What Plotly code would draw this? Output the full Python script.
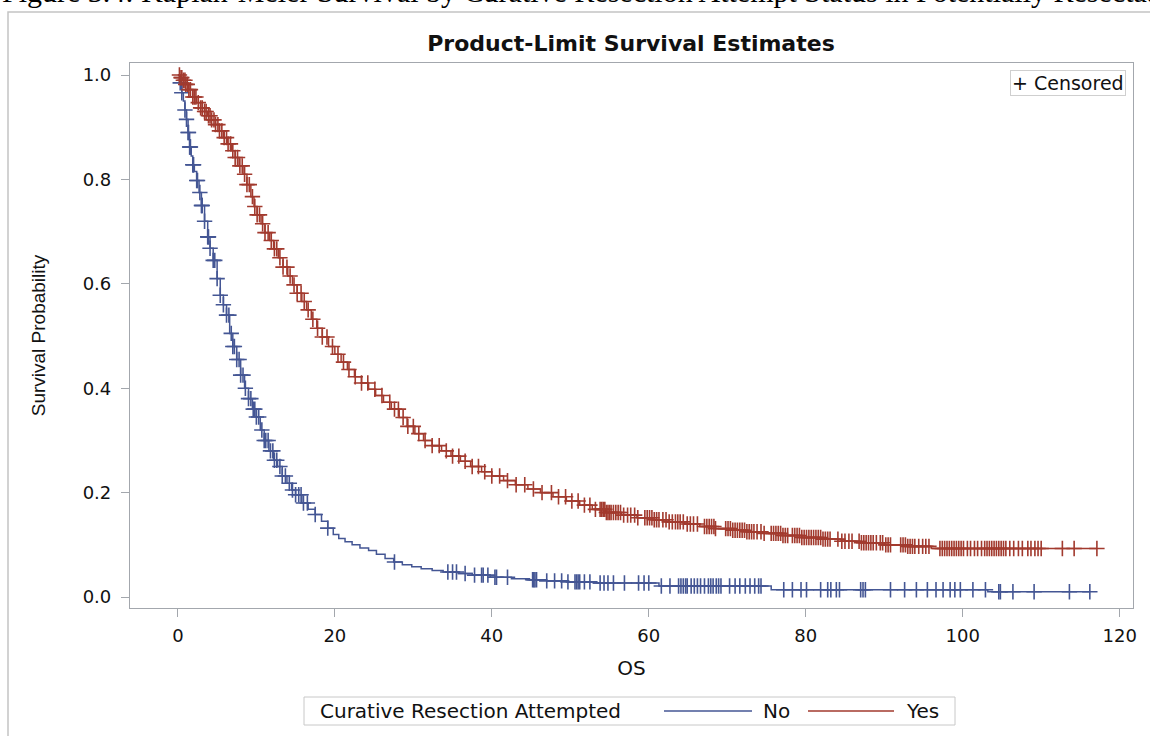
import numpy as np
import plotly.graph_objects as go

# ---- Kaplan-Meier step estimates (time in months, survival after each step) ----
no_time = [0, 0.2, 0.5, 0.7, 0.9, 1.1, 1.3, 1.5, 1.7, 1.9, 2.1, 2.4, 2.7, 3.0, 3.4, 3.8,
           4.1, 4.5, 5.0, 5.4, 5.8, 6.2, 6.6, 7.0, 7.5, 8.0, 8.5, 9.0, 9.5, 10.0, 10.5,
           11.0, 11.6, 12.2, 12.7, 13.3, 13.9, 14.5, 15.0, 15.8, 16.6, 17.5, 18.3, 19.1,
           19.8, 20.5, 21.3, 22.2, 23.2, 24.3, 25.3, 26.4, 27.5, 28.6, 29.8, 31.0, 32.4,
           33.8, 35.8, 37.5, 39.8, 42.5, 44.8, 47.0, 49.5, 53.0, 61.3, 75.6, 103.2]
no_surv = [1.0, 0.985, 0.966, 0.95, 0.933, 0.915, 0.89, 0.862, 0.845, 0.828, 0.815, 0.798,
           0.775, 0.750, 0.72, 0.69, 0.668, 0.645, 0.61, 0.578, 0.56, 0.54, 0.505, 0.48,
           0.455, 0.425, 0.40, 0.38, 0.36, 0.345, 0.32, 0.30, 0.28, 0.262, 0.25, 0.232,
           0.218, 0.205, 0.196, 0.18, 0.168, 0.158, 0.145, 0.132, 0.12, 0.112, 0.106,
           0.100, 0.094, 0.089, 0.082, 0.074, 0.067, 0.062, 0.058, 0.054, 0.051, 0.048,
           0.045, 0.042, 0.038, 0.035, 0.033, 0.031, 0.029, 0.027, 0.021, 0.014, 0.010]

yes_time = [0, 0.3, 0.6, 1.0, 1.4, 1.9, 2.4, 2.9, 3.4, 3.8, 4.3, 4.8, 5.3, 5.8, 6.3, 6.8,
            7.3, 7.8, 8.3, 8.8, 9.3, 9.7, 10.1, 10.6, 11.1, 11.7, 12.2, 12.8, 13.4, 14.0,
            14.6, 15.2, 15.8, 16.4, 17.0, 17.7, 18.4, 19.2, 20.0, 20.8, 21.6, 22.5, 23.4,
            24.3, 25.2, 26.2, 27.2, 28.2, 29.2, 30.2, 31.3, 32.4, 33.6, 34.8, 36.0, 37.3,
            38.7, 40.0, 41.5, 43.0, 44.6, 46.2, 47.8, 49.5, 51.2, 52.8, 54.5, 56.5, 58.5,
            60.5, 62.5, 64.5, 66.5, 68.5, 70.5, 72.5, 74.5, 77.0, 79.5, 82.0, 84.5, 87.0,
            90.0, 93.0, 96.0]
yes_surv = [1.0, 0.995, 0.99, 0.982, 0.972, 0.958, 0.947, 0.937, 0.93, 0.922, 0.914, 0.905,
            0.893, 0.88, 0.868, 0.855, 0.842, 0.826, 0.81, 0.79, 0.767, 0.748, 0.732, 0.715,
            0.698, 0.683, 0.667, 0.65, 0.632, 0.615, 0.598, 0.582, 0.566, 0.55, 0.532,
            0.515, 0.498, 0.48, 0.465, 0.45, 0.436, 0.422, 0.41, 0.398, 0.386, 0.373, 0.36,
            0.344, 0.327, 0.313, 0.3, 0.29, 0.28, 0.27, 0.26, 0.25, 0.24, 0.232, 0.223,
            0.215, 0.207, 0.2, 0.192, 0.184, 0.176, 0.168, 0.162, 0.157, 0.152, 0.148,
            0.144, 0.14, 0.135, 0.131, 0.128, 0.125, 0.122, 0.118, 0.114, 0.111, 0.107,
            0.104, 0.100, 0.097, 0.093]

# ---- censoring times ----
no_censor = [0.3, 0.5, 0.9, 1.1, 1.3, 1.35, 1.5, 1.55, 1.6, 1.9, 1.95, 2.0, 2.4, 2.5, 2.8,
             3.0, 3.05, 3.1, 3.4, 3.8, 3.85, 3.9, 4.1, 4.5, 4.7, 5.0, 5.4, 5.8, 6.2, 6.5,
             6.8, 7.0, 7.2, 7.5, 7.8, 8.0, 8.3, 8.6, 9.0, 9.3, 9.6, 9.8, 10.0, 10.3, 10.7,
             11.0, 11.2, 11.5, 11.8, 12.1, 12.3, 12.6, 13.0, 13.3, 13.7, 14.2, 14.6, 15.0,
             15.4, 15.7, 16.0, 16.5, 17.5, 19.1, 27.6,
             34.4, 35.0, 35.5, 36.6, 37.8, 38.7, 38.9, 39.5, 40.4, 40.6, 42.0,
             45.2, 45.35, 45.5, 45.7, 47.0, 48.0, 48.9, 49.7, 50.6, 50.8, 51.0, 51.2,
             51.8, 52.5, 53.8, 54.3, 54.8, 55.5, 56.9, 58.7, 59.4, 60.0, 61.6, 62.7,
             63.8, 64.1, 64.4, 64.7, 64.9, 65.4, 65.8, 66.2, 66.6, 67.1, 67.6, 67.9,
             68.2, 68.6, 68.9, 69.2, 70.3, 71.0, 71.6, 72.3, 72.9, 73.5, 74.0, 74.3,
             77.2, 78.3, 79.4, 80.1, 81.9, 82.8, 83.2, 83.9, 84.3, 87.0, 87.3, 87.6,
             90.8, 92.6, 94.1, 95.5, 96.6, 97.5, 98.4, 99.0, 99.7, 101.3, 102.9, 104.6,
             104.8, 106.4, 109.1, 113.6, 116.2]

yes_censor = [0.2, 0.4, 0.5, 0.7, 0.9, 1.0, 1.2, 1.4, 1.6, 1.9, 2.1, 2.3, 2.6, 2.9, 3.1,
              3.4, 3.6, 3.9, 4.1, 4.3, 4.6, 4.8, 5.1, 5.3, 5.6, 5.9, 6.2, 6.4, 6.7, 7.0,
              7.3, 7.6, 7.9, 8.2, 8.5, 8.8, 9.1, 9.5, 9.8, 10.1, 10.4, 10.8, 11.1, 11.5,
              11.9, 12.3, 12.6, 13.0, 13.4, 13.9, 14.3, 14.8, 15.2, 15.7, 16.1, 16.6, 17.2,
              17.8, 18.4, 19.0, 19.7, 20.4, 21.1, 21.8, 22.6, 23.4, 24.2, 25.1, 26.0, 27.0,
              27.6, 28.1, 28.7, 29.3, 30.0, 30.7, 31.5, 32.4, 33.3, 34.2, 35.0, 35.8, 36.6,
              37.5, 38.3, 39.1, 40.0, 41.0, 42.0, 43.1, 44.2, 45.3, 46.4, 47.6, 48.5, 49.4,
              50.2, 51.0, 51.8, 52.5, 53.2,
              53.8, 54.0, 54.2, 54.4, 54.6, 54.8, 55.0, 55.2, 55.5, 55.8, 56.1, 56.4,
              56.8, 57.3, 57.7, 58.2, 58.6, 59.5, 59.8, 60.1, 60.4, 60.7, 61.0, 61.3,
              61.8, 62.2, 62.6, 63.0, 63.4, 63.7, 64.0, 64.4, 64.9, 65.3, 65.7, 66.2,
              67.1, 67.4, 67.7, 68.0, 68.3, 68.5, 69.8, 70.1, 70.4, 70.7, 71.0, 71.3,
              71.6, 71.9, 72.2, 72.5, 72.8, 73.1, 73.4, 73.8, 74.3, 74.7, 75.6, 75.9,
              76.2, 76.5, 76.8, 77.1, 77.4, 77.7, 78.3, 78.6, 78.9, 79.2, 79.5, 79.8,
              80.1, 80.4, 80.7, 81.0, 81.3, 81.6, 81.9, 82.2, 82.5, 82.8, 83.1, 84.1,
              84.6, 85.0, 85.5, 85.9, 86.8, 87.1, 87.4, 87.7, 88.0, 88.3, 88.6, 89.0,
              89.5, 89.8, 90.2, 90.5, 90.8, 92.1, 92.4, 92.7, 93.0, 93.3, 93.6, 93.9,
              94.4, 94.9, 95.3, 95.7, 97.1, 97.4, 97.7, 98.0, 98.3, 98.6, 98.9, 99.2,
              99.5, 99.8, 100.1, 100.6, 101.0, 101.5, 101.9, 102.4, 102.8, 103.1, 103.4,
              103.7, 104.0, 104.3, 104.6, 104.9, 105.2, 105.5, 106.0, 106.5, 107.1,
              107.6, 108.3, 108.7, 109.2, 109.6, 110.0, 112.7, 114.2, 117.1]

x_ticks = [0, 20, 40, 60, 80, 100, 120]
y_ticks = [0.0, 0.2, 0.4, 0.6, 0.8, 1.0]

BLUE = "#445694"
RED = "#A23A2E"
FRAME = "#A3A7AD"
SANS = "DejaVu Sans"


def step_at(times, surv, t):
    """Survival value of a right-continuous step function at time t."""
    times = np.asarray(times)
    surv = np.asarray(surv)
    idx = np.searchsorted(times, t, side="right") - 1
    return surv[idx]


fig = go.Figure()

for times, surv, cens, color in [(no_time, no_surv, no_censor, BLUE),
                                 (yes_time, yes_surv, yes_censor, RED)]:
    t_end = max(cens)
    xs = list(times) + [t_end]
    ys = list(surv) + [surv[-1]]
    fig.add_trace(go.Scatter(x=xs, y=ys, mode="lines", line_shape="hv",
                             line=dict(color=color, width=1.5),
                             showlegend=False, hoverinfo="skip"))
    fig.add_trace(go.Scatter(x=cens, y=step_at(times, surv, np.asarray(cens)),
                             mode="markers",
                             marker=dict(symbol="cross-thin", size=11, color=color,
                                         line=dict(color=color, width=1.6)),
                             showlegend=False, hoverinfo="skip"))

# layout geometry (pixels)
W, H = 1150, 736
L, R, T, B = 130, 17, 63, 128
pw, ph = W - L - R, H - T - B


def px(xp):
    return (xp - L) / pw


def py(yp):
    return (H - B - yp) / ph


axis_common = dict(showline=True, linecolor=FRAME, linewidth=1.2, mirror=True,
                   ticks="outside", ticklen=8, tickcolor=FRAME, tickwidth=1.2,
                   showgrid=False, zeroline=False,
                   tickfont=dict(family=SANS, size=18, color="#111"))

fig.update_layout(
    width=W, height=H,
    margin=dict(l=L, r=R, t=T, b=B),
    paper_bgcolor="white", plot_bgcolor="white",
    title=dict(text="<b>Product-Limit Survival Estimates</b>", xref="container",
               x=631 / W, xanchor="center", y=1 - 43 / H, yanchor="middle",
               font=dict(family=SANS, size=22, color="#111")),
    xaxis=dict(range=[-6.1, 121.7], tickvals=x_ticks, ticktext=[str(v) for v in x_ticks],
               ticklabelstandoff=3,
               title=dict(text="OS", font=dict(family=SANS, size=20, color="#111"),
                          standoff=16),
               **axis_common),
    yaxis=dict(range=[-0.021, 1.023], tickvals=y_ticks,
               ticktext=[f"{v:.1f}" for v in y_ticks], ticklabelstandoff=6,
               title=dict(text="Survival Probability",
                          font=dict(family="Liberation Sans", size=19, color="#111"),
                          standoff=32),
               **axis_common),
)

# page caption (top, partly outside the page)
fig.add_annotation(text="Figure 3.4: Kaplan-Meier Survival by Curative Resection Attempt "
                        "Status in Potentially Resectable",
                   xref="paper", yref="paper", x=px(0), y=py(-8), xanchor="left",
                   yanchor="middle", showarrow=False,
                   font=dict(family="Liberation Serif", size=30, color="#000"))

# outer frame of the graph area
fig.add_shape(type="rect", xref="paper", yref="paper", x0=px(8), x1=px(1170),
              y0=py(760), y1=py(12), line=dict(color="#C4C4C4", width=1.5),
              fillcolor="rgba(0,0,0,0)", layer="below")

# censored-marker inset
fig.add_annotation(text="+ Censored", xref="paper", yref="paper", x=px(1126), y=py(70),
                   xanchor="right", yanchor="top", showarrow=False,
                   font=dict(family=SANS, size=19, color="#111"),
                   bordercolor="#CFCFCF", borderwidth=1, borderpad=1, bgcolor="white")

# group legend at the bottom
fig.add_shape(type="rect", xref="paper", yref="paper", x0=px(304), x1=px(955),
              y0=py(725), y1=py(697), line=dict(color="#C8C8C8", width=1))
fig.add_annotation(text="Curative Resection Attempted", xref="paper", yref="paper",
                   x=px(318), y=py(711), xanchor="left", yanchor="middle", showarrow=False,
                   font=dict(family=SANS, size=20, color="#111"))
for x0, x1, xt, color, label in [(664, 752, 761, BLUE, "No"), (808, 894, 904, RED, "Yes")]:
    fig.add_shape(type="line", xref="paper", yref="paper", x0=px(x0), x1=px(x1),
                  y0=py(711), y1=py(711), line=dict(color=color, width=1.5))
    fig.add_annotation(text=label, xref="paper", yref="paper", x=px(xt), y=py(711),
                       xanchor="left", yanchor="middle", showarrow=False,
                       font=dict(family=SANS, size=20, color="#111"))

fig.write_html("out.html")
